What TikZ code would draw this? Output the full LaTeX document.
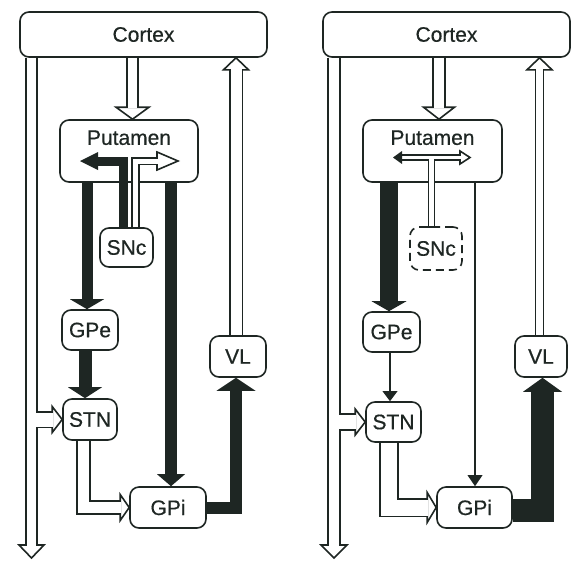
\documentclass[tikz,border=0pt]{standalone}
\usepackage{fontspec}
\newfontfamily\labfont{Liberation Sans}[FakeBold=0.5]
\usetikzlibrary{calc}
\definecolor{ink}{RGB}{30,38,35}
\tikzset{
  box/.style={draw=ink, line width=1.6pt, rounded corners=9pt, text=ink,
    font=\labfont\fontsize{21}{24}\selectfont, inner sep=0pt},
  hol/.style={draw=ink, line width=1.6pt, double=white, double distance=#1, line join=miter},
  solid/.style={draw=ink, line width=#1, line join=miter},
  lbl/.style={text=ink, font=\labfont\fontsize{21}{24}\selectfont, inner sep=0pt}
}
% open (hollow) arrow head: tip, direction angle, half width, length, inner width of shaft
\newcommand{\ohead}[5]{%
  \begin{scope}[shift={(#1)}, rotate=#2]
    \filldraw[draw=ink, fill=white, line width=1.6pt, line join=miter] (0,0) -- (-#4,#3) -- (-#4,-#3) -- cycle;
    \fill[white] (-#4-2,-#5/2) rectangle (-#4+1.2,#5/2);
  \end{scope}}
% solid arrow head: tip, direction angle, half width, length
\newcommand{\shead}[4]{%
  \begin{scope}[shift={(#1)}, rotate=#2]
    \fill[ink] (0,0) -- (-#4,#3) -- (-#4,-#3) -- cycle;
  \end{scope}}
\begin{document}
\begin{tikzpicture}[x=1pt,y=-1pt]
\fill[white] (0,0) rectangle (572,560);
\useasboundingbox (0,0) rectangle (572,560);

% ---------------- left panel nodes ----------------
\node[box, minimum width=247pt, minimum height=45pt] (cortexL) at (143.5,34.5) {Cortex\hspace{25pt}};
\node[box, minimum width=138pt, minimum height=62pt,
  label={[lbl, anchor=north, yshift=-11pt]north:Putamen}] (putL) at (129,151) {};
\node[box, minimum width=53pt, minimum height=39pt] (snL) at (126.5,247.5) {SNc};
\node[box, minimum width=56pt, minimum height=40pt] (gpeL) at (90,330) {GPe};
\node[box, minimum width=54pt, minimum height=41pt] (stnL) at (90,419.5) {STN};
\node[box, minimum width=76pt, minimum height=41pt] (gpiL) at (168,507.5) {GPi};
\node[box, minimum width=56pt, minimum height=41pt] (vlL) at (238,356.5) {VL};

% column coordinates (left)
\coordinate (bL) at (36,0);
\coordinate (cpL) at (132.5,0);
\coordinate (pgL) at (87,0);
\coordinate (gsL) at (85,0);
\coordinate (piL) at (171,0);
\coordinate (sgL) at (83.5,0);
\coordinate (vL) at (236,0);
\coordinate (sbL) at (123,0);
\coordinate (swL) at (135.5,0);
\coordinate (oLtip) at (31.5,558);
\coordinate (sbTip) at (80,161);
\coordinate (swTip) at (178,161);

% outer descending pathway
\draw[hol=9pt] (cortexL.south -| oLtip) -- ($(oLtip)+(0,-13)$);
\ohead{oLtip}{-90}{12.5}{13}{9}
% branch into STN
\draw[hol=14pt] (stnL.west -| bL) -- ($(stnL.west)+(-10,0)$);
\ohead{stnL.west}{0}{13}{10}{14}
% cortex -> putamen
\draw[hol=9.5pt] (cortexL.south -| cpL) -- ($(putL.north -| cpL)+(0,-12)$);
\ohead{putL.north -| cpL}{-90}{16.5}{12}{9.5}
% putamen -> GPe
\draw[solid=11pt] (putL.south -| pgL) -- ($(gpeL.north -| pgL)+(0,-9.5)$);
\shead{gpeL.north -| pgL}{-90}{17}{10}
% GPe -> STN
\draw[solid=13pt] (gpeL.south -| gsL) -- ($(stnL.north -| gsL)+(0,-10.5)$);
\shead{stnL.north -| gsL}{-90}{17}{11}
% putamen -> GPi
\draw[solid=12pt] (putL.south -| piL) -- ($(gpiL.north -| piL)+(0,-11.5)$);
\shead{gpiL.north -| piL}{-90}{14}{12}
% STN -> GPi
\draw[hol=11pt] (stnL.south -| sgL) |- ($(gpiL.west)+(-9,0)$);
\ohead{gpiL.west}{0}{13}{9}{11}
% GPi -> VL
\draw[solid=12pt] (gpiL.east) -| ($(vlL.south -| vL)+(0,12.5)$);
\shead{vlL.south -| vL}{90}{19.5}{13}
% VL -> cortex
\draw[hol=11pt] (vlL.north -| vL) -- ($(cortexL.south -| vL)+(0,12)$);
\ohead{cortexL.south -| vL}{90}{12.5}{12}{11}
% SNc -> putamen (black)
\draw[solid=9pt] (snL.north -| sbL) |- ($(sbTip)+(17.5,0)$);
\shead{sbTip}{180}{9}{18}
% SNc -> putamen (white)
\draw[hol=5pt] (snL.north -| swL) |- ($(swTip)+(-21,0)$);
\ohead{swTip}{0}{9}{21}{5}

% ---------------- right panel nodes ----------------
\node[box, minimum width=247pt, minimum height=45pt] (cortexR) at (446.5,34.5) {Cortex\hspace{25pt}};
\node[box, minimum width=139pt, minimum height=62pt,
  label={[lbl, anchor=north, yshift=-11pt]north:Putamen}] (putR) at (432.5,151) {};
\node[box, dash pattern=on 8pt off 5pt, minimum width=52pt, minimum height=43pt] (snR) at (436,248.5) {SNc};
\node[box, minimum width=57pt, minimum height=40pt] (gpeR) at (391.5,332) {GPe};
\node[box, minimum width=55pt, minimum height=40pt] (stnR) at (393.5,422) {STN};
\node[box, minimum width=75pt, minimum height=41pt] (gpiR) at (474.5,507.5) {GPi};
\node[box, minimum width=52pt, minimum height=41pt] (vlR) at (541,356.5) {VL};

% column coordinates (right)
\coordinate (bR) at (339,0);
\coordinate (cpR) at (439,0);
\coordinate (pgR) at (389,0);
\coordinate (gsR) at (390,0);
\coordinate (piR) at (475,0);
\coordinate (sgR) at (389,0);
\coordinate (vR) at (542.5,0);
\coordinate (vhR) at (539.5,0);
\coordinate (oRtip) at (334,558);
\coordinate (tL) at (393,157.5);
\coordinate (tR) at (470,157.5);
\coordinate (tvTop) at (431.5,159.3);

% outer descending pathway
\draw[hol=10pt] (cortexR.south -| oRtip) -- ($(oRtip)+(0,-13)$);
\ohead{oRtip}{-90}{13}{13}{10}
% branch into STN
\draw[hol=14pt] (stnR.west -| bR) -- ($(stnR.west)+(-10,0)$);
\ohead{stnR.west}{0}{13}{10}{14}
% cortex -> putamen
\draw[hol=10pt] (cortexR.south -| cpR) -- ($(putR.north -| cpR)+(0,-12)$);
\ohead{putR.north -| cpR}{-90}{15.5}{12}{10}
% putamen -> GPe
\draw[solid=18pt] (putR.south -| pgR) -- ($(gpeR.north -| pgR)+(0,-9.5)$);
\shead{gpeR.north -| pgR}{-90}{17.5}{10}
% GPe -> STN
\draw[solid=2.4pt] (gpeR.south -| gsR) -- ($(stnR.north -| gsR)+(0,-9.5)$);
\shead{stnR.north -| gsR}{-90}{7.5}{10}
% putamen -> GPi
\draw[solid=2.4pt] (putR.south -| piR) -- ($(gpiR.north -| piR)+(0,-10.5)$);
\shead{gpiR.north -| piR}{-90}{7.5}{11}
% STN -> GPi
\draw[hol=16pt] (stnR.south -| sgR) |- ($(gpiR.west)+(-9,0)$);
\ohead{gpiR.west}{0}{15}{9}{16}
% GPi -> VL
\draw[solid=23pt] ($(gpiR.east)+(0,2.5)$) -| ($(vlR.south -| vR)+(0,13.5)$);
\shead{vlR.south -| vR}{90}{19.5}{14}
% VL -> cortex
\draw[hol=6.5pt] (vlR.north -| vhR) -- ($(cortexR.south -| vhR)+(0,12)$);
\ohead{cortexR.south -| vhR}{90}{12.5}{12}{6.5}
% SNc -> putamen (weak T)
\draw[hol=3.6pt] ($(tL)+(8,0)$) -- ($(tR)+(-9,0)$);
\draw[hol=4.6pt] (snR.north -| tvTop) -- (tvTop);
\fill[white] (429.2,156.3) rectangle (433.8,160.6);
\shead{tL}{180}{6.5}{9}
\ohead{tR}{0}{6.5}{10}{3.6}
\draw[ink, line width=1.6pt] ($(snR.north -| tvTop)+(-5.5,0.8)$) -- ($(snR.north -| tvTop)+(5.5,0.8)$);
\end{tikzpicture}
\end{document}
